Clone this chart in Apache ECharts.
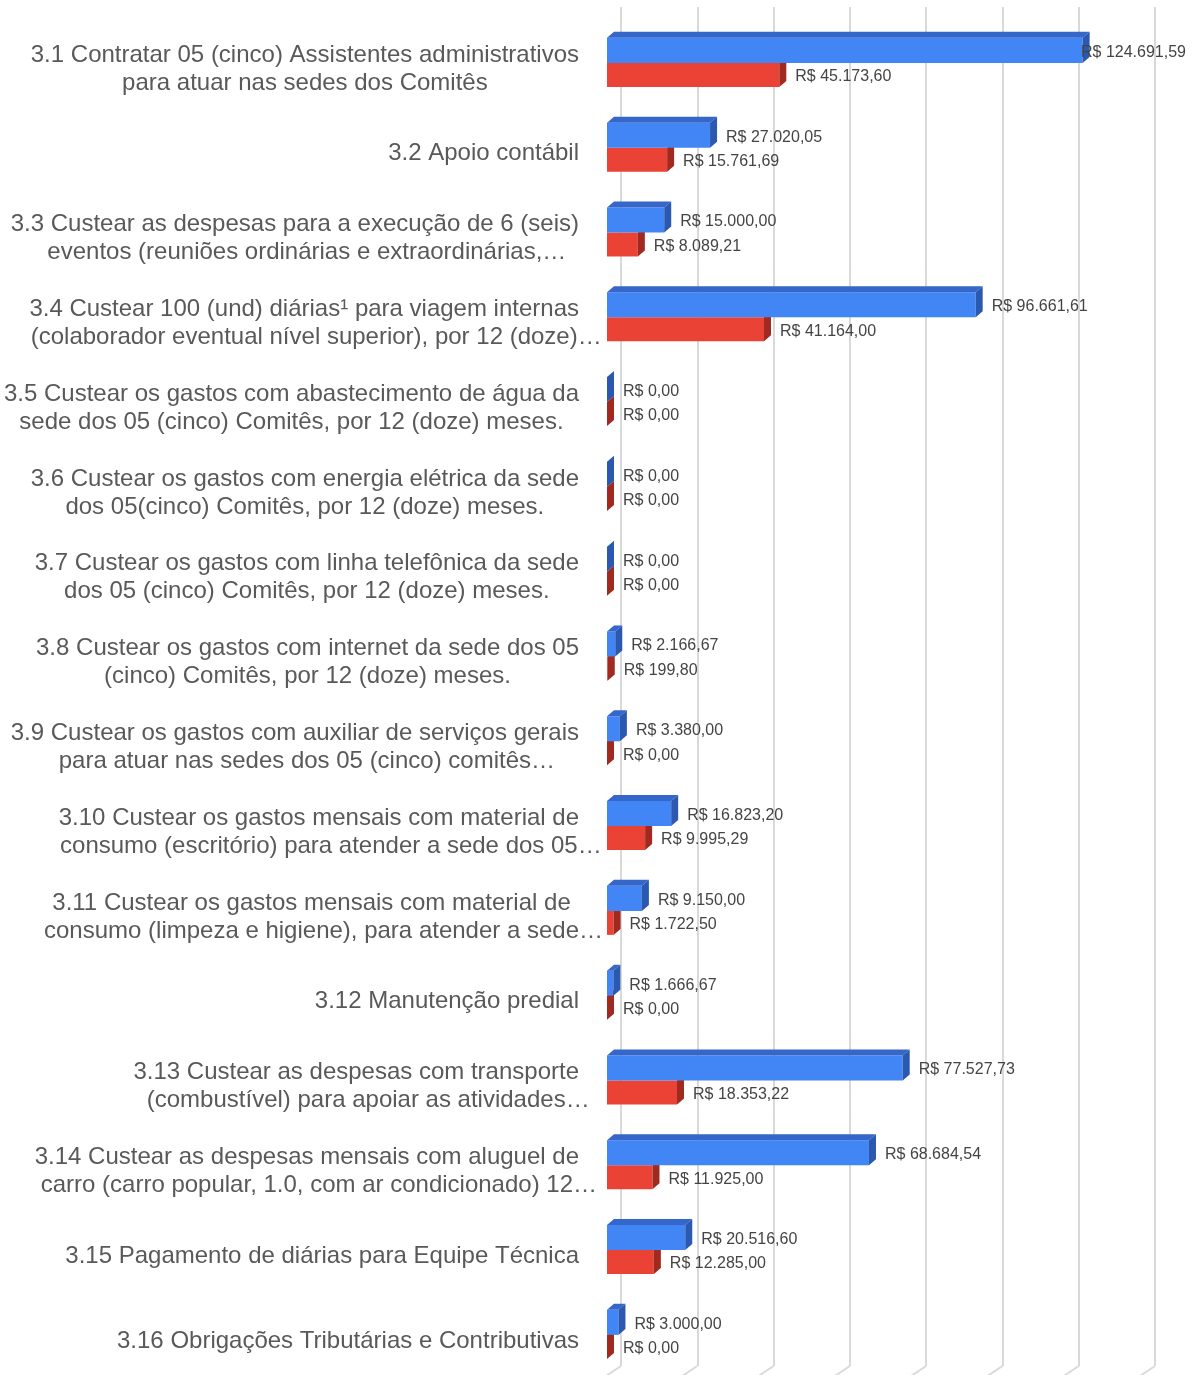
<!DOCTYPE html>
<html><head><meta charset="utf-8">
<script src="https://cdn.jsdelivr.net/npm/echarts@6/dist/echarts.min.js"></script>
<style>html,body{margin:0;padding:0;background:#fff;overflow:hidden}#c{width:1192px;height:1400px}</style>
</head><body><div id="c"></div>
<script>
// ---- data ----
const categories = [
  "3.1 Contratar 05 (cinco) Assistentes administrativos\npara atuar nas sedes dos Comitês",
  "3.2 Apoio contábil",
  "3.3 Custear as despesas para a execução de 6 (seis)\neventos (reuniões ordinárias e extraordinárias,…",
  "3.4 Custear 100 (und) diárias¹ para viagem internas\n(colaborador eventual nível superior), por 12 (doze)…",
  "3.5 Custear os gastos com abastecimento de água da\nsede dos 05 (cinco) Comitês, por 12 (doze) meses.",
  "3.6 Custear os gastos com energia elétrica da sede\ndos 05(cinco) Comitês, por 12 (doze) meses.",
  "3.7 Custear os gastos com linha telefônica da sede\ndos 05 (cinco) Comitês, por 12 (doze) meses.",
  "3.8 Custear os gastos com internet da sede dos 05\n(cinco) Comitês, por 12 (doze) meses.",
  "3.9 Custear os gastos com auxiliar de serviços gerais\npara atuar nas sedes dos 05 (cinco) comitês…",
  "3.10 Custear os gastos mensais com material de\nconsumo (escritório) para atender a sede dos 05…",
  "3.11 Custear os gastos mensais com material de\nconsumo (limpeza e higiene), para atender a sede…",
  "3.12 Manutenção predial",
  "3.13 Custear as despesas com transporte\n(combustível) para apoiar as atividades…",
  "3.14 Custear as despesas mensais com aluguel de\ncarro (carro popular, 1.0, com ar condicionado) 12…",
  "3.15 Pagamento de diárias para Equipe Técnica",
  "3.16 Obrigações Tributárias e Contributivas"
];
const planned = [124691.59, 27020.05, 15000.00, 96661.61, 0, 0, 0, 2166.67, 3380.00, 16823.20, 9150.00, 1666.67, 77527.73, 68684.54, 20516.60, 3000.00];
const executed = [45173.60, 15761.69, 8089.21, 41164.00, 0, 0, 0, 199.80, 0, 9995.29, 1722.50, 0, 18353.22, 11925.00, 12285.00, 0];
const xTicks = [0, 20000, 40000, 60000, 80000, 100000, 120000, 140000];

// ---- helpers ----
function brl(v) {
  const s = v.toFixed(2).split('.');
  return 'R$ ' + s[0].replace(/\B(?=(\d{3})+(?!\d))/g, '.') + ',' + s[1];
}
const LABEL_FONT = '16px "Liberation Sans", Arial, sans-serif';
const ctx = document.createElement('canvas').getContext('2d');
ctx.font = LABEL_FONT;
const VIEW_W = 1192;

const DX = 7, DY = -6;
const COLORS = {
  blue: { front: '#4285f4', top: '#3566c9', side: '#2c59b0' },
  red: { front: '#ea4335', side: '#a12a20' }
};

function makeRender(kind) {
  return function (params, api) {
    const val = api.value(0), idx = api.value(1);
    const p0 = api.coord([0, idx]);
    const p1 = api.coord([val, idx]);
    const bw = api.size([0, 1])[1];
    const cy = p0[1];
    let yt, yb;
    if (kind === 'blue') { yt = cy - 0.366 * bw; yb = cy - 0.071 * bw; }
    else { yt = cy - 0.071 * bw; yb = cy + 0.212 * bw; }
    const x0 = p0[0], x1 = p1[0];
    const c = COLORS[kind];
    const children = [];
    if (x1 - x0 > 0.3) {
      children.push({ type: 'rect', shape: { x: x0, y: yt, width: x1 - x0, height: yb - yt }, style: { fill: c.front } });
    }
    if (kind === 'blue') {
      children.push({ type: 'polygon', shape: { points: [[x0, yt], [x0 + DX, yt + DY], [x1 + DX, yt + DY], [x1, yt]] }, style: { fill: c.top } });
    }
    children.push({ type: 'polygon', shape: { points: [[x1, yt], [x1 + DX, yt + DY], [x1 + DX, yb + DY], [x1, yb]] }, style: { fill: c.side } });
    const txt = brl(val);
    const w = ctx.measureText(txt).width;
    let lx = x1 + 16, align = 'left';
    if (lx + w > VIEW_W - 4) { lx = VIEW_W - 6; align = 'right'; }
    children.push({ type: 'text', x: lx, y: (yt + yb) / 2 + 2, style: { text: txt, fill: '#444444', font: LABEL_FONT, align: align, verticalAlign: 'middle' }, z2: 10 });
    return { type: 'group', children: children };
  };
}

const chart = echarts.init(document.getElementById('c'), null, { renderer: 'canvas' });
chart.setOption({
  animation: false,
  backgroundColor: '#ffffff',
  grid: [
    { left: 607, top: 26.5, width: 534, height: 1356.8, containLabel: false },
    { left: 621, top: 7, width: 534, height: 1359, containLabel: false }
  ],
  xAxis: [
    { gridIndex: 0, type: 'value', min: 0, max: 140000, interval: 20000, show: false },
    { gridIndex: 1, type: 'value', min: 0, max: 140000, interval: 20000,
      axisLabel: { show: false }, axisLine: { show: false }, axisTick: { show: false },
      splitLine: { show: true, lineStyle: { color: '#d9d9d9', width: 2 } } }
  ],
  yAxis: [
    { gridIndex: 0, type: 'category', inverse: true, data: categories,
      axisLine: { show: false }, axisTick: { show: false }, splitLine: { show: false },
      axisLabel: {
        margin: 4,
        formatter: function (v) {
          return v.split('\n').map(l => (l.endsWith('…') ? '{e|' + l + '}' : '{p|' + l + '}')).join('\n');
        },
        rich: {
          p: { align: 'center', padding: [0, 24, 0, 0], fontSize: 24, lineHeight: 28, color: '#595959', fontFamily: '"Liberation Sans", Arial, sans-serif' },
          e: { align: 'center', fontSize: 24, lineHeight: 28, color: '#595959', fontFamily: '"Liberation Sans", Arial, sans-serif' }
        }
      } },
    { gridIndex: 1, type: 'value', min: 0, max: 1, show: false }
  ],
  series: [
    { type: 'custom', name: 'floor', xAxisIndex: 1, yAxisIndex: 1, z: 1, silent: true,
      data: xTicks.map(v => [v, 0]),
      renderItem: function (params, api) {
        const p = api.coord([api.value(0), 0]);
        return { type: 'line', shape: { x1: p[0], y1: p[1], x2: p[0] - 15, y2: p[1] + 10 }, style: { stroke: '#d9d9d9', lineWidth: 2 } };
      } },
    { type: 'custom', name: 'Executado', xAxisIndex: 0, yAxisIndex: 0, z: 3,
      data: executed.map((v, i) => [v, i]), encode: { x: 0, y: 1 }, renderItem: makeRender('red') },
    { type: 'custom', name: 'Previsto', xAxisIndex: 0, yAxisIndex: 0, z: 4,
      data: planned.map((v, i) => [v, i]), encode: { x: 0, y: 1 }, renderItem: makeRender('blue') }
  ]
});
</script>
</body></html>
